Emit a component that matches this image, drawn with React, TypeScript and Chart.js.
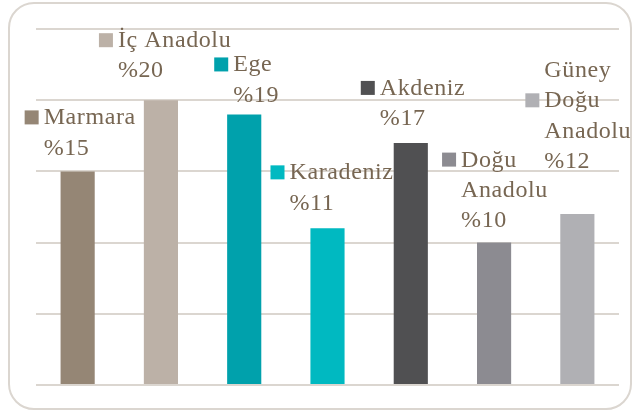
import React, { useEffect, useRef } from "react";
import { Chart, registerables } from "chart.js";

Chart.register(...registerables);

const regions = ["Marmara", "İç Anadolu", "Ege", "Karadeniz", "Akdeniz", "Doğu Anadolu", "Güney Doğu Anadolu"];
const shares = [15, 20, 19, 11, 17, 10, 12];
const labelLines = [
  ["Marmara"],
  ["İç Anadolu"],
  ["Ege"],
  ["Karadeniz"],
  ["Akdeniz"],
  ["Doğu", "Anadolu"],
  ["Güney", "Doğu", "Anadolu"],
];
const barColors = ["#958675", "#bcb1a7", "#00a1ac", "#00b9c1", "#505052", "#8c8b91", "#b0b0b4"];
// label placement relative to bar centre / top: [dx of key square, dy of first baseline, line index of key]
const labelOffsets = [
  [-53, -47, 0],
  [-62, -53, 0],
  [-30, -43, 0],
  [-57, -49, 0],
  [-50, -48, 0],
  [-52, -76, 0],
  [-52, -137, 1],
];

const TEXT_COLOR = "#776652";
const FONT = "24px 'Liberation Serif', serif";
const LINE_H = 30.2;

const labelPlugin = {
  id: "regionLabels",
  afterDatasetsDraw(chart: any) {
    const ctx = chart.ctx as CanvasRenderingContext2D;
    const meta = chart.getDatasetMeta(0);
    ctx.save();
    ctx.font = FONT;
    try { (ctx as any).letterSpacing = "0.6px"; } catch (e) {}
    ctx.textBaseline = "alphabetic";
    ctx.textAlign = "left";
    meta.data.forEach((bar: any, i: number) => {
      const [dx, dy, keyLine] = labelOffsets[i];
      const sx = bar.x + dx;
      const by = bar.y + dy;
      const lines = [...labelLines[i], "%" + shares[i]];
      ctx.fillStyle = barColors[i];
      ctx.fillRect(sx, by + keyLine * LINE_H - 14, 14, 14);
      ctx.fillStyle = TEXT_COLOR;
      lines.forEach((ln, j) => {
        ctx.fillText(ln, sx + 19, by + j * LINE_H);
      });
    });
    ctx.restore();
  },
};

export default function App() {
  const ref = useRef<HTMLCanvasElement | null>(null);
  useEffect(() => {
    document.body.style.margin = "0";
    const chart = new Chart(ref.current!, {
      type: "bar",
      data: {
        labels: regions,
        datasets: [
          {
            data: shares,
            backgroundColor: barColors,
            borderWidth: 0,
            categoryPercentage: 1,
            barPercentage: 0.41,
          },
        ],
      },
      options: {
        animation: false,
        responsive: false,
        maintainAspectRatio: false,
        layout: { padding: { left: 36, right: 16, top: 29, bottom: 31 } },
        plugins: { legend: { display: false }, tooltip: { enabled: false } },
        scales: {
          x: {
            grid: { display: false },
            ticks: { display: false },
            border: { display: false },
            afterFit(scale: any) {
              scale.height = 0;
            },
          },
          y: {
            min: 0,
            max: 25,
            ticks: { display: false, stepSize: 5 },
            border: { display: false },
            grid: { color: "#dbd6d0", lineWidth: 2, drawTicks: false },
            afterFit(scale: any) {
              scale.width = 0;
            },
          },
        },
      },
      plugins: [labelPlugin],
    });
    return () => chart.destroy();
  }, []);
  return (
    <div style={{ position: "absolute", left: 0, top: 0, width: 635, height: 416, background: "#fff" }}>
      <div
        style={{
          position: "absolute",
          left: 8,
          top: 2,
          width: 624,
          height: 408,
          border: "2px solid #dbd6d0",
          borderRadius: 26,
          boxSizing: "border-box",
        }}
      />
      <canvas ref={ref} width={635} height={416} style={{ position: "absolute", left: 0, top: 0 }} />
    </div>
  );
}
